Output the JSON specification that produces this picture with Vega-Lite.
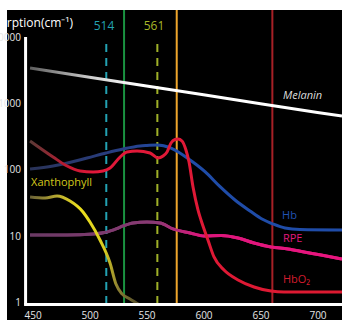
{
  "$schema": "https://vega.github.io/schema/vega-lite/v6.json",
  "width": 335,
  "height": 310,
  "autosize": {"type": "none"},
  "padding": {"left": 7, "top": 10, "right": 0, "bottom": 0},
  "background": "white",
  "config": {
    "view": {"fill": "black", "stroke": null},
    "font": "Open Sans",
    "axis": {"domain": false, "ticks": false, "tickSize": 0, "grid": false, "labelColor": "#e6e6e6", "labelFont": "Open Sans", "labelFontSize": 10, "zindex": 1}
  },
  "datasets": {
    "melanin": [
      {"nm": 447.8, "v": 3420}, {"nm": 500, "v": 2485}, {"nm": 550, "v": 1830}, {"nm": 600, "v": 1350},
      {"nm": 650, "v": 990}, {"nm": 700, "v": 730}, {"nm": 721.5, "v": 650}
    ],
    "hb": [
      {"nm": 447.8, "v": 103.5}, {"nm": 468.0, "v": 114.8}, {"nm": 497.8, "v": 151.4}, {"nm": 514.5, "v": 180.2},
      {"nm": 529.4, "v": 206.9}, {"nm": 544.3, "v": 229.6}, {"nm": 550.4, "v": 233.6}, {"nm": 559.2, "v": 237.8},
      {"nm": 571.5, "v": 214}, {"nm": 588.2, "v": 141.3}, {"nm": 601.3, "v": 94.3}, {"nm": 614.5, "v": 56.1},
      {"nm": 627.6, "v": 35.4}, {"nm": 640.8, "v": 24.2}, {"nm": 651.3, "v": 18.3}, {"nm": 661.0, "v": 15.4},
      {"nm": 671.5, "v": 13.4}, {"nm": 684.6, "v": 12.7}, {"nm": 721.5, "v": 12.5}
    ],
    "hbo2": [
      {"nm": 447.8, "v": 273}, {"nm": 468.0, "v": 156.8}, {"nm": 480.3, "v": 114.8}, {"nm": 491.7, "v": 96.6},
      {"nm": 503.1, "v": 93.3}, {"nm": 511.8, "v": 96.6}, {"nm": 518.0, "v": 107.2}, {"nm": 526.8, "v": 156.8},
      {"nm": 532.9, "v": 186.6}, {"nm": 541.7, "v": 193}, {"nm": 553.1, "v": 180.2}, {"nm": 560.1, "v": 151.4},
      {"nm": 564.5, "v": 162.3}, {"nm": 568.0, "v": 186.6}, {"nm": 571.5, "v": 254.8}, {"nm": 575.0, "v": 287.6},
      {"nm": 577.6, "v": 292.5}, {"nm": 581.1, "v": 273}, {"nm": 584.6, "v": 200}, {"nm": 587.3, "v": 131.9},
      {"nm": 590.8, "v": 55.5}, {"nm": 595.2, "v": 25.0}, {"nm": 597.8, "v": 17.7}, {"nm": 603.9, "v": 8.86},
      {"nm": 609.2, "v": 4.92}, {"nm": 618.0, "v": 3.13}, {"nm": 630.3, "v": 2.22}, {"nm": 644.3, "v": 1.74},
      {"nm": 659.2, "v": 1.51}, {"nm": 670.6, "v": 1.46}, {"nm": 721.5, "v": 1.46}
    ],
    "rpe": [
      {"nm": 447.8, "v": 10.5}, {"nm": 480.3, "v": 10.5}, {"nm": 503.1, "v": 10.9}, {"nm": 515.4, "v": 11.7},
      {"nm": 524.1, "v": 13.2}, {"nm": 529.4, "v": 14.4}, {"nm": 538.2, "v": 16.0}, {"nm": 550.4, "v": 16.5},
      {"nm": 561.8, "v": 16.0}, {"nm": 573.2, "v": 13.0}, {"nm": 588.2, "v": 11.3}, {"nm": 600.4, "v": 10.2},
      {"nm": 615.4, "v": 10.35}, {"nm": 630.3, "v": 9.49}, {"nm": 644.3, "v": 7.98}, {"nm": 659.2, "v": 6.95},
      {"nm": 674.1, "v": 6.49}, {"nm": 688.2, "v": 5.85}, {"nm": 703.1, "v": 5.27}, {"nm": 721.5, "v": 4.59}
    ],
    "xanthophyll": [
      {"nm": 447.8, "v": 39.3}, {"nm": 461.0, "v": 37.9}, {"nm": 471.5, "v": 40.6}, {"nm": 482.9, "v": 34.2},
      {"nm": 494.3, "v": 23.4}, {"nm": 500.4, "v": 16.5}, {"nm": 509.2, "v": 8.86}, {"nm": 518.0, "v": 4.0},
      {"nm": 523.2, "v": 1.93}, {"nm": 528.5, "v": 1.37}, {"nm": 535.5, "v": 1.15}, {"nm": 544.3, "v": 0.933}
    ]
  },
  "layer": [
    {
      "data": {"name": "rpe"},
      "mark": {"type": "line", "interpolate": "monotone", "strokeWidth": 3,
        "stroke": {"gradient": "linear", "x1": 0, "y1": 0, "x2": 1, "y2": 0,
          "stops": [{"offset": 0, "color": "#6a3a64"}, {"offset": 0.4, "color": "#8a3a74"}, {"offset": 0.55, "color": "#de167c"}, {"offset": 1, "color": "#ea157f"}]}},
      "encoding": {
        "x": {
          "field": "nm", "type": "quantitative",
          "scale": {"domain": [427.6, 721.5], "nice": false, "zero": false},
          "axis": {"values": [450, 500, 550, 600, 650, 700], "offset": -17, "labelPadding": 7, "labelFlush": false, "title": null}
        },
        "y": {
          "field": "v", "type": "quantitative",
          "scale": {"type": "log", "domain": [0.555, 25470], "nice": false, "zero": false},
          "axis": {"values": [1, 10, 100, 1000, 10000], "format": "d", "offset": -18.5, "labelPadding": 5, "title": null}
        }
      }
    },
    {
      "data": {"values": [{}]},
      "mark": {"type": "rule", "stroke": "#23a2b2", "strokeWidth": 2, "strokeDash": [8, 6]},
      "encoding": {"x": {"datum": 514.7, "type": "quantitative"}, "y": {"datum": 0.97, "type": "quantitative"}, "y2": {"datum": 9300}}
    },
    {
      "data": {"values": [{}]},
      "mark": {"type": "rule", "stroke": "#1a9240", "strokeWidth": 2},
      "encoding": {"x": {"datum": 530.3, "type": "quantitative"}, "y": {"datum": 0.97, "type": "quantitative"}, "y2": {"datum": 25470}}
    },
    {
      "data": {"values": [{}]},
      "mark": {"type": "rule", "stroke": "#9fb028", "strokeWidth": 2, "strokeDash": [8, 6]},
      "encoding": {"x": {"datum": 559.5, "type": "quantitative"}, "y": {"datum": 0.97, "type": "quantitative"}, "y2": {"datum": 9300}}
    },
    {
      "data": {"values": [{}]},
      "mark": {"type": "rule", "stroke": "#eea52c", "strokeWidth": 2},
      "encoding": {"x": {"datum": 576.5, "type": "quantitative"}, "y": {"datum": 0.97, "type": "quantitative"}, "y2": {"datum": 25470}}
    },
    {
      "data": {"values": [{}]},
      "mark": {"type": "rule", "stroke": "#a62026", "strokeWidth": 2},
      "encoding": {"x": {"datum": 660.4, "type": "quantitative"}, "y": {"datum": 0.97, "type": "quantitative"}, "y2": {"datum": 25470}}
    },
    {
      "data": {"name": "rpe"},
      "mark": {"type": "line", "interpolate": "monotone", "strokeWidth": 3,
        "stroke": {"gradient": "linear", "x1": 0, "y1": 0, "x2": 1, "y2": 0,
          "stops": [{"offset": 0, "color": "#6a3a64"}, {"offset": 0.4, "color": "#8a3a74"}, {"offset": 0.55, "color": "#de167c"}, {"offset": 1, "color": "#ea157f"}]}},
      "encoding": {"x": {"field": "nm", "type": "quantitative"}, "y": {"field": "v", "type": "quantitative"}}
    },
    {
      "data": {"name": "xanthophyll"},
      "mark": {"type": "line", "interpolate": "monotone", "strokeWidth": 3,
        "stroke": {"gradient": "linear", "x1": 0, "y1": 0, "x2": 1, "y2": 0,
          "stops": [{"offset": 0, "color": "#6a6238"}, {"offset": 0.25, "color": "#b8aa30"}, {"offset": 0.45, "color": "#ece01e"}, {"offset": 0.68, "color": "#d8cc20"}, {"offset": 0.8, "color": "#8a7e32"}, {"offset": 1, "color": "#4e4828"}]}},
      "encoding": {"x": {"field": "nm", "type": "quantitative"}, "y": {"field": "v", "type": "quantitative"}}
    },
    {
      "data": {"name": "hb"},
      "mark": {"type": "line", "interpolate": "monotone", "strokeWidth": 3,
        "stroke": {"gradient": "linear", "x1": 0, "y1": 0, "x2": 1, "y2": 0,
          "stops": [{"offset": 0, "color": "#2a3358"}, {"offset": 0.3, "color": "#283f86"}, {"offset": 0.45, "color": "#1f4ca8"}, {"offset": 1, "color": "#1f4ca8"}]}},
      "encoding": {"x": {"field": "nm", "type": "quantitative"}, "y": {"field": "v", "type": "quantitative"}}
    },
    {
      "data": {"name": "hbo2"},
      "mark": {"type": "line", "interpolate": "monotone", "strokeWidth": 3,
        "stroke": {"gradient": "linear", "x1": 0, "y1": 0, "x2": 1, "y2": 0,
          "stops": [{"offset": 0, "color": "#5a3a36"}, {"offset": 0.12, "color": "#c01830"}, {"offset": 0.2, "color": "#e2183a"}, {"offset": 1, "color": "#dc1a30"}]}},
      "encoding": {"x": {"field": "nm", "type": "quantitative"}, "y": {"field": "v", "type": "quantitative"}}
    },
    {
      "data": {"name": "melanin"},
      "mark": {"type": "line", "strokeWidth": 3,
        "stroke": {"gradient": "linear", "x1": 0, "y1": 0, "x2": 1, "y2": 0,
          "stops": [{"offset": 0, "color": "#5e5e5e"}, {"offset": 0.2, "color": "#cfcfcf"}, {"offset": 0.35, "color": "#ffffff"}, {"offset": 1, "color": "#ffffff"}]}},
      "encoding": {"x": {"field": "nm", "type": "quantitative"}, "y": {"field": "v", "type": "quantitative"}}
    },
    {
      "data": {"values": [{}]},
      "mark": {"type": "rule", "stroke": "white", "strokeWidth": 3},
      "encoding": {"x": {"datum": 443.9, "type": "quantitative"}, "y": {"datum": 0.94, "type": "quantitative"}, "y2": {"datum": 10000}}
    },
    {
      "data": {"values": [{}]},
      "mark": {"type": "rule", "stroke": "white", "strokeWidth": 3},
      "encoding": {"x": {"datum": 442.6, "type": "quantitative"}, "x2": {"datum": 721.5}, "y": {"datum": 0.949, "type": "quantitative"}}
    },
    {
      "data": {"values": [{}]},
      "mark": {"type": "text", "text": "Absorption(cm⁻¹)", "align": "right", "baseline": "middle", "fontSize": 12, "color": "white"},
      "encoding": {"x": {"datum": 485.5, "type": "quantitative"}, "y": {"datum": 16240, "type": "quantitative"}}
    },
    {
      "data": {"values": [{}]},
      "mark": {"type": "text", "text": "514", "align": "center", "baseline": "middle", "fontSize": 12, "color": "#23a2b2"},
      "encoding": {"x": {"datum": 512.7, "type": "quantitative"}, "y": {"datum": 14640, "type": "quantitative"}}
    },
    {
      "data": {"values": [{}]},
      "mark": {"type": "text", "text": "561", "align": "center", "baseline": "middle", "fontSize": 12, "color": "#a8b828"},
      "encoding": {"x": {"datum": 556.6, "type": "quantitative"}, "y": {"datum": 14640, "type": "quantitative"}}
    },
    {
      "data": {"values": [{}]},
      "mark": {"type": "text", "text": "Melanin", "align": "left", "baseline": "middle", "fontSize": 11, "fontStyle": "italic", "color": "#dcdcdc"},
      "encoding": {"x": {"datum": 669.7, "type": "quantitative"}, "y": {"datum": 1297, "type": "quantitative"}}
    },
    {
      "data": {"values": [{}]},
      "mark": {"type": "text", "text": "Hb", "align": "left", "baseline": "middle", "fontSize": 11, "color": "#2052b4"},
      "encoding": {"x": {"datum": 668.9, "type": "quantitative"}, "y": {"datum": 20.3, "type": "quantitative"}}
    },
    {
      "data": {"values": [{}]},
      "mark": {"type": "text", "text": "RPE", "align": "left", "baseline": "middle", "fontSize": 11, "color": "#e2197c"},
      "encoding": {"x": {"datum": 669.7, "type": "quantitative"}, "y": {"datum": 9.17, "type": "quantitative"}}
    },
    {
      "data": {"values": [{}]},
      "mark": {"type": "text", "text": "HbO₂", "align": "left", "baseline": "middle", "fontSize": 11, "color": "#d41c2e"},
      "encoding": {"x": {"datum": 669.7, "type": "quantitative"}, "y": {"datum": 2.22, "type": "quantitative"}}
    },
    {
      "data": {"values": [{}]},
      "mark": {"type": "text", "text": "Xanthophyll", "align": "left", "baseline": "middle", "fontSize": 11, "color": "#d4c81c"},
      "encoding": {"x": {"datum": 448.7, "type": "quantitative"}, "y": {"datum": 63.8, "type": "quantitative"}}
    }
  ]
}
